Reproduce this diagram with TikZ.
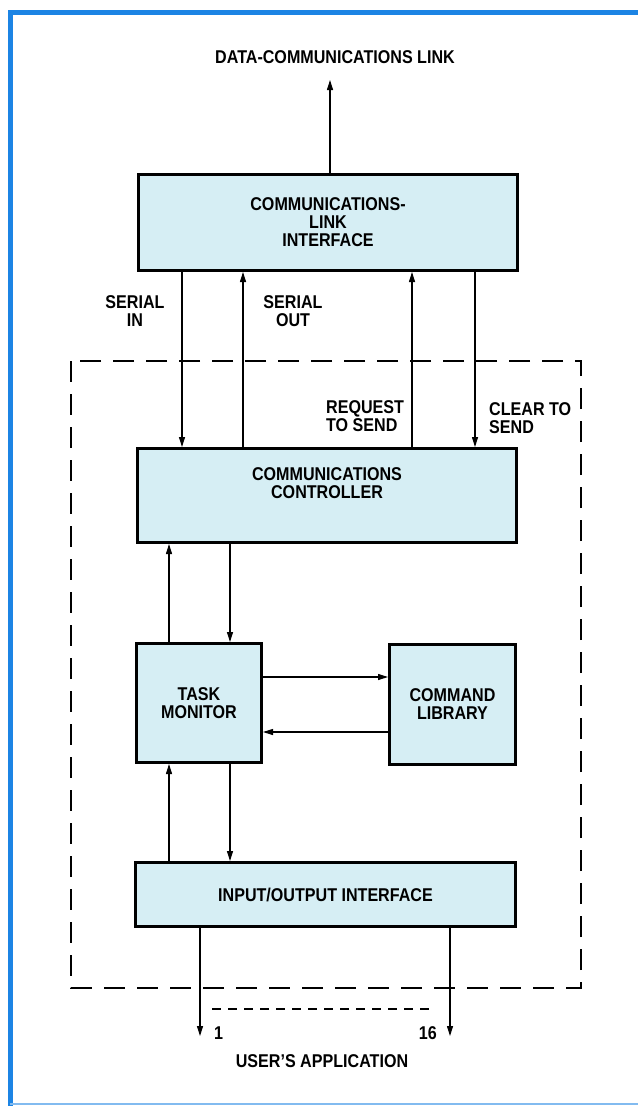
\documentclass[tikz,border=0pt]{standalone}
\usepackage{fontspec}
\setmainfont{Liberation Sans}[FakeStretch=0.87]
\usetikzlibrary{arrows.meta}
\definecolor{frameblue}{RGB}{28,132,228}
\definecolor{boxfill}{RGB}{214,238,244}

\begin{document}
\begin{tikzpicture}[x=1pt,y=-1pt,
  >={Triangle[length=10pt,width=6pt]},
  blk/.style={draw,line width=3pt,fill=boxfill,align=center,inner sep=0pt,
    font=\bfseries\fontsize{18.5}{18}\selectfont},
  lbl/.style={inner sep=0pt,font=\bfseries\fontsize{18.5}{18}\selectfont},
  sig/.style={line width=1.1pt}]
  \useasboundingbox (0,0) rectangle (638,1106);
  \draw[frameblue,line width=5pt] (10,1106) -- (10,12) -- (638,12);
  \draw[frameblue!55,line width=2pt] (10,1104) -- (638,1104);

  \node[blk,minimum width=379pt,minimum height=96pt] (cli) at (328,222.5) {COMMUNICATIONS-\\LINK\\INTERFACE};
  \node[blk,minimum width=379pt,minimum height=94pt] (cc) at (327,495.5) {COMMUNICATIONS\\CONTROLLER\\[6pt]};
  \node[blk,minimum width=125pt,minimum height=119pt] (tm) at (199,703) {TASK\\MONITOR};
  \node[blk,minimum width=126pt,minimum height=120pt] (cl) at (452.5,704.5) {COMMAND\\LIBRARY};
  \node[blk,minimum width=380pt,minimum height=64pt] (io) at (325.5,894.5) {INPUT/OUTPUT INTERFACE};

  \draw[line width=2.7pt,dash pattern=on 21pt off 12pt] (71,361) rectangle (581,988);

  \node[lbl] (title) at (335,57) {DATA-COMMUNICATIONS LINK};
  \node[lbl,align=center] (lsin) at (135,311) {SERIAL\\IN};
  \node[lbl,align=center] (lsout) at (293,311) {SERIAL\\OUT};
  \node[lbl,align=left,anchor=west] (lrts) at (326,416) {REQUEST\\TO SEND};
  \node[lbl,align=left,anchor=west] (lcts) at (489,418) {CLEAR TO\\SEND};
  \node[lbl,anchor=west] (lone) at (214,1033) {1};
  \node[lbl,anchor=east] (lsixteen) at (437,1033) {16};
  \node[lbl] (user) at (322,1061) {USER'S APPLICATION};

  \coordinate (top) at (330,80);
  \coordinate (si) at (182,0);
  \coordinate (so) at (243,0);
  \coordinate (rts) at (412,0);
  \coordinate (cts) at (475,0);
  \coordinate (up) at (169,0);
  \coordinate (dn) at (230,0);
  \coordinate (c1) at (0,677);
  \coordinate (c2) at (0,732);
  \coordinate (p1) at (200,1036);
  \coordinate (p16) at (450,1036);
  \coordinate (d1) at (212,1009);
  \coordinate (d2) at (433,1009);

  \draw[sig,->] (cli.north -| top) -- (top);
  \draw[sig,->] (cli.south -| si) -- (cc.north -| si);
  \draw[sig,->] (cc.north -| so) -- (cli.south -| so);
  \draw[sig,->] (cc.north -| rts) -- (cli.south -| rts);
  \draw[sig,->] (cli.south -| cts) -- (cc.north -| cts);
  \draw[sig,->] (tm.north -| up) -- (cc.south -| up);
  \draw[sig,->] (cc.south -| dn) -- (tm.north -| dn);
  \draw[sig,->] (tm.east |- c1) -- (cl.west |- c1);
  \draw[sig,->] (cl.west |- c2) -- (tm.east |- c2);
  \draw[sig,->] (io.north -| up) -- (tm.south -| up);
  \draw[sig,->] (tm.south -| dn) -- (io.north -| dn);
  \draw[sig,->] (io.south -| p1) -- (p1);
  \draw[sig,->] (io.south -| p16) -- (p16);
  \draw[line width=1.3pt,dash pattern=on 9pt off 7pt] (d1) -- (d2);
\end{tikzpicture}
\end{document}
